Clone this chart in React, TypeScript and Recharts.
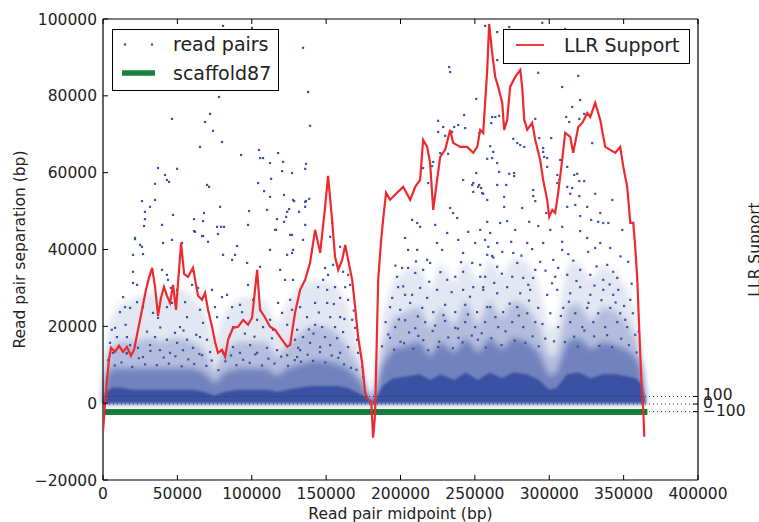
import React from "react";
import { ComposedChart, Area, Line, Scatter, XAxis, YAxis, ReferenceLine } from "recharts";

const FONT = "DejaVu Sans, Verdana, sans-serif";
const BLUE = "#3b52a4";
const RED = "#ee2a2e";
const GREEN = "#16803c";

const xTicks = [0, 50000, 100000, 150000, 200000, 250000, 300000, 350000, 400000];
const yTicks = [-20000, 0, 20000, 40000, 60000, 80000, 100000];
const llrTicks = [-100, 0, 100];
const llrGuides = [100, 0, -100];

// density envelope of the read-pair cloud (bp positions, tops in kbp)
const densityX = [0, 2000, 6000, 12000, 20000, 30000, 40000, 50000, 60000, 68000, 75000, 82000, 90000, 100000, 110000, 117000, 124000, 132000, 140000, 150000, 158000, 164000, 170000, 175000, 178000, 181000, 184000, 188000, 195000, 205000, 213000, 220000, 227000, 236000, 244000, 252000, 260000, 268000, 276000, 285000, 293000, 300000, 305000, 312000, 320000, 328000, 336000, 345000, 352000, 358000, 362000, 364000, 365000];
const solidTopK = [0.5, 3, 4, 4, 3.5, 3.5, 3.5, 3.5, 3.5, 3, 2, 3, 3.5, 3.5, 3.5, 3, 3.5, 4, 4.5, 4.5, 4.5, 4, 3, 2, 1.2, 0.5, 1.5, 4.5, 6.5, 7, 7.5, 6, 7.5, 6, 8, 6, 8, 6.5, 8, 7.5, 6, 3.5, 4, 7.5, 8, 6.5, 7.5, 7.5, 7, 6.5, 5, 2, 0];
const denseTopK = [1, 7, 9, 9, 9, 9, 9, 9, 9, 8, 5, 8, 9, 9, 9, 7, 9, 10, 11, 11, 10, 9, 7, 4.5, 2, 0.8, 3.5, 10, 14, 15, 16, 12, 16, 13, 17, 13, 17, 14, 17, 16, 13, 7, 8, 16, 17, 14, 16, 15, 14, 12, 9, 3, 0];
const mediumTopK = [2, 11, 15, 16, 16, 17, 16, 17, 16, 14, 8, 14, 16, 16, 16, 12, 15, 18, 20, 20, 18, 15, 11, 7, 3, 1, 6, 15, 22, 24, 25, 19, 25, 20, 27, 20, 27, 22, 27, 25, 20, 12, 13, 25, 26, 21, 25, 24, 21, 17, 11, 4, 0];
const sparseTopK = [3, 16, 23, 26, 27, 29, 28, 30, 28, 24, 16, 24, 27, 28, 26, 20, 26, 30, 32, 32, 30, 26, 18, 11, 4, 1.2, 9, 23, 32, 35, 36, 29, 37, 31, 38, 31, 38, 33, 38, 37, 31, 19, 21, 36, 37, 32, 36, 34, 30, 24, 14, 5, 0];

// individual read pairs [midpoint kbp, separation kbp]
const readPairsK: [number, number][] = [
  [80.7,98.2],[100.2,97.7],[134.5,92.5],
  [78.0,79.7],[137.9,81.0],[72.0,75.3],[68.6,73.2],[46.4,74.0],[139.2,72.2],[74.0,70.9],[80.0,68.0],[65.2,66.7],[92.8,64.6],[104.9,65.9],[105.6,63.8],[107.6,63.8],[117.7,65.1],[112.3,62.5],[121.1,62.8],[136.5,62.3],[135.9,61.0],[37.0,61.2],[49.8,61.0],[41.7,59.4],[43.0,58.1],[44.4,57.6],[35.0,57.1],[120.4,60.4],[127.1,59.9],[113.0,58.4],[70.0,56.8],[71.3,56.3],[104.3,57.3],[108.3,55.2],[112.3,53.7],[121.7,54.2],[26.2,52.6],[35.0,52.9],[128.5,52.6],[138.6,53.2],[136.5,52.6],[31.6,51.1],[28.2,49.8],[78.7,51.1],[28.2,47.9],[27.6,46.1],[39.7,46.4],[47.1,49.0],[67.9,49.5],[61.2,47.9],[67.3,47.4],[98.2,50.0],[110.3,50.3],[125.1,50.5],[123.8,49.8],[131.8,49.8],[117.0,47.9],[123.1,48.5],[121.7,47.2],[97.5,46.4],[76.7,45.9],[79.4,45.9],[81.4,45.9],[135.9,46.4],[135.9,51.1],[116.4,45.1],[127.1,43.8],[77.3,44.0],[67.3,43.5],[61.2,44.8],[21.5,42.7],[46.4,42.5],
  [256.9,98.2],[265.0,96.6],[273.1,97.9],[295.3,99.0],[310.7,97.4],[265.0,89.3],[232.7,87.5],[233.4,86.2],[292.6,86.0],[319.5,85.2],[308.7,82.3],[250.9,79.2],[320.8,78.9],[315.4,77.1],[242.8,75.0],[225.3,73.5],[228.7,71.9],[238.8,72.4],[236.1,71.9],[243.5,71.6],[234.7,70.6],[225.3,70.6],[230.0,69.6],[252.9,70.3],[261.6,74.5],[263.7,74.5],[266.3,74.8],[261.0,72.9],[290.6,74.0],[293.3,69.0],[301.3,69.0],[311.4,74.5],[313.4,73.2],[320.2,74.0],[323.5,75.3],[328.9,67.7],[275.8,68.8],[278.5,67.7],[280.5,67.2],[283.2,66.7],[260.3,66.9],[295.9,66.4],[295.9,65.4],[262.3,65.4],[261.6,63.8],[258.3,63.6],[265.0,62.5],[296.6,64.1],[298.6,63.8],[307.4,63.3],[215.2,61.2],[222.0,62.8],[221.3,61.7],[232.0,64.9],[226.7,65.1],[250.9,59.9],[266.3,60.2],[273.1,59.7],[276.4,59.9],[276.4,59.1],[298.6,61.5],[305.4,59.4],[312.1,61.5],[316.8,59.4],[318.8,59.7],[320.2,57.8],[323.5,57.8],[242.1,58.1],[248.9,57.3],[252.9,56.8],[254.2,56.0],[265.0,56.8],[271.1,56.8],[305.4,57.3],[312.1,56.3],[315.4,56.0],[218.6,57.3],
  [289.2,55.5],[289.2,53.9],[320.2,53.9],[330.9,54.5],[314.1,54.5],[255.6,54.5],[258.3,52.9],[269.7,53.7],[290.6,52.6],[269.7,51.1],[281.8,50.8],[298.0,49.5],[312.1,51.1],[317.5,51.6],[325.5,51.1],[334.3,49.5],[328.2,47.7],[320.8,48.7],[306.7,58.1],[258.3,47.2],[267.0,46.9],[271.7,47.4],[277.1,45.1],[286.5,47.2],[292.6,46.1],[300.7,45.1],[308.7,45.9],[320.8,44.8],[332.9,47.2],[336.3,46.9],[339.7,46.9],[253.6,45.1],[260.3,44.3],[265.0,41.7],[274.4,42.0],[285.2,41.7],[295.9,41.7],[308.7,42.0],[325.5,43.0],[334.3,41.7],[259.0,40.7],[268.4,39.4],[261.6,38.3],[275.8,39.1],[288.5,40.1],[293.9,36.8],[302.7,37.3],[308.7,39.9],[312.8,38.8],[326.2,39.4],[330.9,40.4],[341.0,40.4],[253.6,36.0],[265.0,35.5],[278.5,36.5],[290.6,34.7],[306.0,35.2],[320.8,34.7],[339.0,36.0],[343.0,34.2],[256.9,32.9],[263.0,31.3],[275.1,32.9],[282.5,32.6],[289.2,32.6],[304.0,32.9],[312.1,33.4],[327.6,33.4],[336.3,32.1],[345.7,32.6],
  [342.4,52.9],[349.1,45.1],[353.1,36.8],[346.4,29.5],[354.5,26.9],[351.1,21.7],[357.8,17.8],
  [255.6,29.5],[265.0,28.6],[271.7,30.2],[280.5,28.6],[287.2,29.5],[298.6,28.2],[305.4,29.5],[314.1,28.6],[320.8,30.2],[327.6,28.2],[336.3,29.5],[343.0,28.2],[260.3,25.0],[269.0,23.7],[278.5,25.0],[285.2,23.4],[292.6,24.8],[300.7,23.4],[309.4,24.8],[317.5,23.4],[325.5,24.8],[332.9,23.4],[341.0,24.8],[347.7,23.4],[256.9,21.1],[265.7,19.8],[275.1,21.1],[282.5,19.8],[290.6,21.1],[306.0,19.8],[314.1,21.1],[322.2,19.8],[329.6,21.1],[337.6,19.8],[345.7,21.1],[352.4,19.8],
  [190.0,21.1],[196.4,19.8],[203.1,21.6],[209.9,19.5],[216.6,21.1],[223.3,20.2],[230.0,21.4],[236.8,19.6],[243.5,21.1],[250.2,19.8],[193.0,17.0],[200.0,16.0],[212.0,17.5],[226.0,16.0],[239.0,17.0],[252.0,16.5],
  [187.6,14.8],[191.8,17.9],[195.7,13.9],[198.9,21.8],[202.4,15.6],[205.8,18.4],[208.6,14.2],[211.7,22.6],[215.3,16.4],[218.7,13.8],[221.6,18.8],[225.4,14.6],[228.9,22.9],[232.1,17.1],[235.2,14.3],[238.6,19.4],[241.7,15.8],[245.3,23.1],[247.9,17.6],[254.6,18.2],[257.4,14.5],[261.1,16.9],[263.8,22.4],[267.9,15.1],[270.6,18.7],[273.4,25.9],[276.8,16.3],[279.5,22.8],[283.9,15.7],[286.4,26.7],[288.8,17.4],[292.9,14.8],[295.4,20.6],[297.3,16.8],[303.2,16.1],[307.8,22.7],[310.5,15.9],[313.2,26.4],[316.7,17.3],[319.1,14.7],[323.6,18.9],[326.4,26.1],[330.2,17.4],[333.7,14.9],[335.1,26.8],[338.9,17.7],[342.3,14.6],[344.6,26.2],[348.4,16.8],[350.3,25.3],[353.6,15.1],[356.2,23.4],[358.7,13.2],[360.1,18.6],[196.6,35.8],[210.4,36.9],[226.8,34.1],[240.7,36.7],[262.4,37.9],[281.3,38.4],[297.5,34.5],[316.2,37.1],[331.8,35.6],[347.9,38.2],[201.8,30.4],[219.3,31.6],[234.4,28.9],[246.7,27.7],[268.1,33.7],[285.9,30.8],[301.9,31.2],[318.3,31.8],[330.4,30.6],[340.6,30.9],[355.4,31.1],
  [21.5,43.0],[24.9,41.2],[26.2,40.7],[26.9,38.8],[20.2,38.6],[40.4,41.7],[53.1,41.7],[61.9,44.6],[66.6,43.5],[70.6,42.0],[90.1,40.9],[88.8,38.6],[115.7,45.1],[127.1,39.1],[123.8,38.6],[112.3,39.9],[80.7,38.6],[86.8,37.3],[96.9,36.5],[105.6,35.5],[119.1,34.7],[127.8,32.1],[122.4,32.1],[125.8,26.9],[20.2,34.2],[20.2,31.3],[22.9,30.8],[22.9,26.3],[13.5,27.6],[14.8,25.0],[18.2,24.8],[11.4,23.7],[8.1,19.6],[9.4,17.2],[16.1,17.2],[18.2,15.1],[26.9,25.0],[33.6,23.5],[37.0,22.2],[43.0,25.0],[46.4,26.1],[43.7,32.1],[39.7,34.7],[43.0,33.4],[45.7,30.0],[49.8,29.5],[55.2,26.3],[56.5,22.4],[51.8,19.8],[48.4,18.3],[59.9,30.8],[63.9,30.0],[65.2,24.3],[67.3,20.9],[73.3,29.5],[75.3,25.0],[76.7,22.4],[80.0,27.6],[83.4,28.2],[84.1,22.2],[86.8,25.0],[87.4,19.8],[92.1,25.6],[93.5,23.7],[97.5,30.8],[100.9,26.9],[103.6,21.7],[105.6,24.3],[107.6,19.8],[112.3,21.7],[114.3,19.1],[117.7,26.1],[120.4,23.5],[123.8,20.4],[127.1,24.3],[130.5,19.1],[129.1,16.5],[131.2,14.4],[65.2,17.2],[69.9,16.5],[56.5,16.5],[49.8,15.7],[43.0,16.5],[35.0,17.2],[31.6,15.1],[23.5,14.4],[10.1,14.6],[4.7,15.7],[6.7,13.1],[16.1,13.1],[26.9,12.0],[38.3,13.8],[45.1,13.1],[53.8,13.8],[60.5,14.4],[66.6,12.5],[72.0,13.3],[80.7,13.1],[87.4,14.6],[92.1,13.1],[98.9,15.1],[103.6,13.1],[110.3,14.4],[117.0,13.8],[123.8,12.5],[130.5,12.0],
  [3.5,11.2],[7.9,9.8],[12.4,10.6],[15.8,12.9],[19.6,9.4],[24.1,11.7],[28.3,10.1],[31.9,13.6],[36.2,9.9],[40.8,11.9],[44.3,10.3],[48.7,12.2],[52.9,9.6],[57.4,11.4],[61.3,10.2],[64.8,12.8],[69.5,9.7],[73.1,11.1],[77.6,8.6],[82.3,10.9],[86.1,12.4],[89.7,9.9],[94.2,11.3],[98.6,10.5],[102.4,12.7],[106.9,9.8],[111.2,11.6],[115.3,10.3],[119.8,12.1],[124.4,9.7],[128.9,11.2],[133.1,10.8],[137.6,12.6],[141.2,11.0],[145.9,13.3],[149.4,10.6],[153.8,12.4],[158.2,11.8],[162.1,10.1],[166.7,9.2],[170.4,8.7],[5.9,19.1],[15.2,20.4],[29.6,18.6],[38.5,19.7],[54.1,18.9],[62.7,17.8],[85.2,17.6],[95.4,18.1],[101.8,17.3],[113.6,16.9],[138.4,19.2],[145.1,23.6],[155.2,25.8],[162.3,21.9],[168.6,24.1],[141.5,18.1],
  [127.8,52.9],[135.9,52.4],[125.8,43.8],[134.5,42.5],[127.8,39.9],[154.0,46.9],[152.7,43.3],[159.4,40.7],[157.4,36.0],[154.7,36.0],[149.3,35.2],[151.3,33.4],[148.0,32.1],[144.6,30.2],[150.7,29.5],[156.0,30.2],[161.4,34.2],[164.8,33.4],[162.8,30.2],[166.1,30.8],[159.4,27.4],[164.8,26.9],[150.7,26.1],[142.6,26.1],[132.5,25.0],[137.2,22.4],[152.7,22.4],[159.4,22.4],[167.5,21.7],[142.6,20.4],[147.3,19.8],[156.0,19.8],[161.4,18.5],[169.5,19.6],[134.5,17.2],[149.3,17.2],[157.4,16.9],[139.2,15.7],[146.0,14.6],[152.7,15.1],[164.8,14.6],[170.8,16.5],[132.5,13.8],[159.4,13.1],[171.5,13.1],[174.2,9.4],[174.9,6.8],
  [207.8,47.7],[211.2,46.9],[213.2,45.9],[203.1,43.0],[205.1,39.9],[211.2,39.9],[217.9,37.3],[215.2,34.7],[209.9,33.9],[201.1,35.2],[205.1,35.2],[197.7,32.9],[223.3,46.4],[224.6,41.7],[228.0,39.9],[219.9,36.5],[231.4,44.3],[235.4,49.5],[238.8,42.5],[242.1,39.1],[248.2,56.8],[252.2,56.3],[248.9,55.0],[254.9,54.7],[233.4,50.8],[238.1,48.2],[245.5,44.6],[250.2,41.7],[256.9,42.5],[258.3,38.6],[248.2,36.5],[242.1,34.2],[253.6,32.9],[198.4,30.2],[203.1,28.2],[194.4,27.4],[207.8,28.2],[213.2,30.0],[217.9,27.4],[224.6,29.5],[231.4,32.1],[236.8,32.9],[242.1,29.5],[248.9,30.2],[255.6,30.2],[193.0,25.0],[199.8,24.3],[206.5,26.1],[214.6,24.8],[222.0,23.7],[230.0,25.6],[236.8,23.7],[243.5,25.6],[251.5,23.7],[258.3,25.0]
];

// LLR support trace (bp, LLR units on the right axis)
const llrX = [0,1300,2700,4000,5400,8100,10800,13500,16100,18800,20900,22900,24900,26900,28900,30900,33000,35000,37000,39000,41000,43000,45100,47100,49100,51100,52500,54500,57200,60500,63900,66600,68600,70600,73300,75300,77300,80000,82100,84100,87400,90800,94200,97500,100200,102200,103600,105600,109000,112300,115700,120400,123800,125800,129100,132500,135900,139200,142600,146000,149300,151300,154000,156000,158100,160800,162800,164800,167500,169500,171500,174200,176200,178200,180300,181600,182900,185000,187000,188300,190300,193000,197700,201800,206500,209900,213200,215200,217900,219900,222000,224600,226700,230000,233400,235400,240100,244800,248900,251600,253600,255600,258300,259600,261600,263700,265700,268400,269700,271700,273700,277100,280500,281800,283200,285200,288500,290600,293900,295900,298600,300000,302000,304000,306000,308700,310700,314100,316100,319500,322200,325500,327600,330900,334300,337600,341000,344400,347700,349800,352400,354500,356500,357800,359200,360500,361900,363200,363900];
const llrValues = [-365,-9,320,583,741,688,767,688,754,636,715,912,1109,1307,1504,1662,1794,1544,1162,1399,1544,1425,1333,1570,1241,1767,2123,1715,1675,1794,1425,1373,1465,1241,1017,820,675,715,622,846,1004,1017,1109,1044,1136,1504,1767,1241,1136,1017,978,846,754,780,1202,1504,1636,1860,2294,1991,2596,3004,2425,1938,1767,1899,2096,1899,1636,1280,886,544,149,57,30,-443,-141,1636,2162,2425,2781,2689,2781,2860,2689,2860,2952,3478,3386,3176,2557,2952,3254,3347,3610,3439,3386,3386,3307,3386,3610,3570,4399,5005,4623,4307,4176,3965,3610,3741,4176,4307,4399,4176,3741,3610,3702,3478,3215,2952,2689,2465,2557,2517,2781,3215,3570,3518,3307,3649,3702,3833,3781,3965,3741,3386,3347,3307,3386,3123,2860,2386,2386,2070,1636,978,320,-75,-430];

const scaffoldStart = 0;
const scaffoldEnd = 366000;
const scaffoldLevel = -2300;

const densityData = densityX.map((x, i) => ({
  x,
  t1: solidTopK[i] * 1000,
  t2: denseTopK[i] * 1000,
  t3: mediumTopK[i] * 1000,
  t4: sparseTopK[i] * 1000,
}));
const pointData = readPairsK.map(([x, y]) => ({ x: x * 1000, y: y * 1000 }));
const llrData = llrX.map((x, i) => ({ x, llr: llrValues[i] }));
const scaffoldData = [
  { x: scaffoldStart, s: scaffoldLevel },
  { x: scaffoldEnd, s: scaffoldLevel },
];

const PLOT_LEFT = 103;
const PLOT_RIGHT = 698;
const PLOT_TOP = 19;
const PLOT_BOTTOM = 480;
const TICK = 5;

const fmt = (v: number) => (v < 0 ? "\u2212" + Math.abs(v) : String(v));

const XTick = (p: any) => {
  const x = p.x;
  return (
    <g>
      <line x1={x} x2={x} y1={PLOT_BOTTOM} y2={PLOT_BOTTOM - TICK} stroke="#000" strokeWidth={1} />
      <line x1={x} x2={x} y1={PLOT_TOP} y2={PLOT_TOP + TICK} stroke="#000" strokeWidth={1} />
      <text x={x} y={499} textAnchor="middle" fontFamily={FONT} fontSize={15.5} fill="#222">
        {fmt(p.payload.value)}
      </text>
    </g>
  );
};

const LeftTick = (p: any) => {
  const y = p.y;
  return (
    <g>
      <line x1={PLOT_LEFT} x2={PLOT_LEFT + TICK} y1={y} y2={y} stroke="#000" strokeWidth={1} />
      <text x={97} y={y} dy={5.5} textAnchor="end" fontFamily={FONT} fontSize={15.5} fill="#222">
        {fmt(p.payload.value)}
      </text>
    </g>
  );
};

const RightTick = (p: any) => {
  const y = p.y;
  return (
    <g>
      <line x1={PLOT_RIGHT} x2={PLOT_RIGHT - TICK} y1={y} y2={y} stroke="#000" strokeWidth={1} />
      <text x={703} y={y} dy={4} textAnchor="start" fontFamily={FONT} fontSize={15.5} fill="#222">
        {fmt(p.payload.value)}
      </text>
    </g>
  );
};

const PairDot = (p: any) => (
  <rect x={p.cx - 1.1} y={p.cy - 1.1} width={2.2} height={2.2} fill={BLUE} />
);

export default function App() {
  return (
    <div style={{ position: "absolute", left: 0, top: 0, width: 759, height: 522, background: "#fff" }}>
      <style>{`.soft-cloud { filter: blur(3px); } .soft-core { filter: blur(1px); }`}</style>
      <ComposedChart
        width={759}
        height={522}
        data={densityData}
        margin={{ top: PLOT_TOP, right: 0, bottom: 0, left: 0 }}
      >
        <XAxis
          dataKey="x"
          type="number"
          domain={[0, 400000]}
          ticks={xTicks}
          interval={0}
          height={42}
          allowDataOverflow
          axisLine={{ stroke: "#000", strokeWidth: 1.2 }}
          tickLine={false}
          tick={(p: any) => <XTick {...p} />}
        />
        <YAxis
          yAxisId="left"
          type="number"
          domain={[-20000, 100000]}
          ticks={yTicks}
          interval={0}
          width={103}
          allowDataOverflow
          axisLine={{ stroke: "#000", strokeWidth: 1.2 }}
          tickLine={false}
          tick={(p: any) => <LeftTick {...p} />}
        />
        <YAxis
          yAxisId="right"
          orientation="right"
          type="number"
          domain={[-1000, 5070]}
          ticks={llrTicks}
          interval={0}
          width={61}
          allowDataOverflow
          axisLine={{ stroke: "#000", strokeWidth: 1.2 }}
          tickLine={false}
          tick={(p: any) => <RightTick {...p} />}
        />
        <Area yAxisId="left" className="soft-cloud" type="linear" dataKey="t4" stroke="none" fill={BLUE} fillOpacity={0.14} isAnimationActive={false} />
        <Area yAxisId="left" className="soft-cloud" type="linear" dataKey="t3" stroke="none" fill={BLUE} fillOpacity={0.28} isAnimationActive={false} />
        <Area yAxisId="left" className="soft-cloud" type="linear" dataKey="t2" stroke="none" fill={BLUE} fillOpacity={0.55} isAnimationActive={false} />
        <Area yAxisId="left" className="soft-core" type="linear" dataKey="t1" stroke="none" fill={BLUE} fillOpacity={1} isAnimationActive={false} />
        <Scatter yAxisId="left" data={pointData} dataKey="y" shape={(p: any) => <PairDot {...p} />} isAnimationActive={false} />
        <Line yAxisId="left" data={scaffoldData} dataKey="s" type="linear" stroke={GREEN} strokeWidth={6} dot={false} activeDot={false} isAnimationActive={false} zIndex={650} />
        <Line yAxisId="right" data={llrData} dataKey="llr" type="linear" stroke={RED} strokeWidth={2.2} dot={false} activeDot={false} isAnimationActive={false} zIndex={700} />
        {llrGuides.map((v) => (
          <ReferenceLine key={v} yAxisId="right" y={v} stroke="#333" strokeWidth={1} strokeDasharray="1 3" zIndex={720} />
        ))}
        <ReferenceLine yAxisId="left" y={100000} stroke="#000" strokeWidth={1.2} zIndex={720} />
      </ComposedChart>
      <svg width={759} height={522} style={{ position: "absolute", left: 0, top: 0, pointerEvents: "none" }}>
        <g fontFamily={FONT} fill="#222">
          <text x={400.5} y={518.5} textAnchor="middle" fontSize={15.5}>Read pair midpoint (bp)</text>
          <text x={24.5} y={249.5} textAnchor="middle" fontSize={15.5} transform="rotate(-90 24.5 249.5)">Read pair separation (bp)</text>
          <text x={760} y={249.5} textAnchor="middle" fontSize={15.5} transform="rotate(-90 760 249.5)">LLR Support</text>
        </g>
        <g>
          <rect x={112.5} y={29.5} width={166} height={61} fill="#fff" stroke="#000" strokeWidth={1} />
          <rect x={123.9} y={43.4} width={2.2} height={2.2} fill={BLUE} />
          <rect x={150.9} y={43.4} width={2.2} height={2.2} fill={BLUE} />
          <text x={173} y={51} fontFamily={FONT} fontSize={19} fill="#222">read pairs</text>
          <line x1={122} x2={155} y1={73} y2={73} stroke={GREEN} strokeWidth={5.5} />
          <text x={173} y={80} fontFamily={FONT} fontSize={19} fill="#222">scaffold87</text>
        </g>
        <g>
          <rect x={503.5} y={29.5} width={186} height={34} fill="#fff" stroke="#000" strokeWidth={1} />
          <line x1={516} x2={544} y1={45} y2={45} stroke={RED} strokeWidth={1.8} />
          <text x={564} y={51.5} fontFamily={FONT} fontSize={19} fill="#222">LLR Support</text>
        </g>
      </svg>
    </div>
  );
}
